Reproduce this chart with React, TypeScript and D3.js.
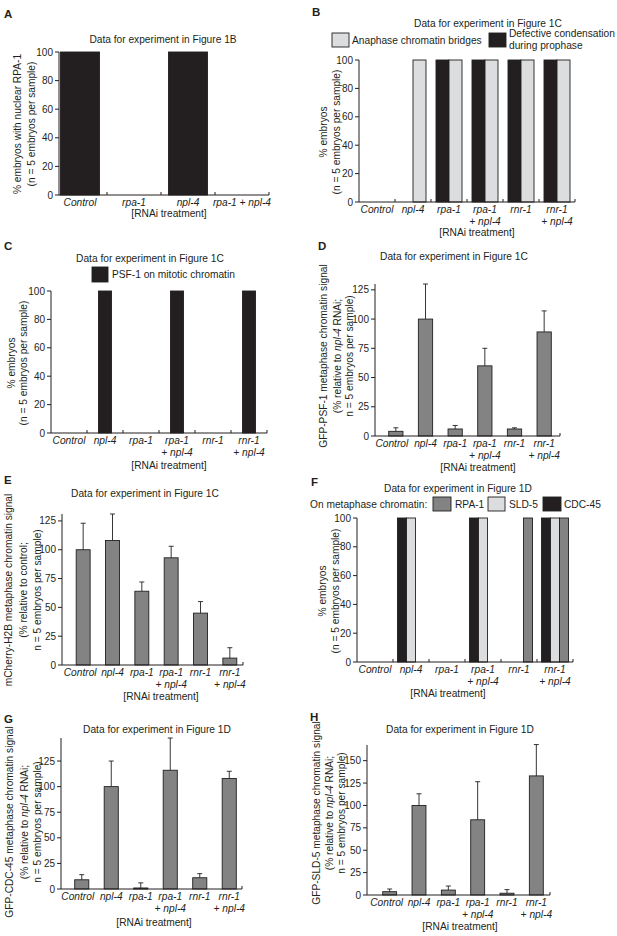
import * as d3 from 'd3'

// ---- data ----
const catsA = ['Control', 'rpa-1', 'npl-4', 'rpa-1 + npl-4']
const cats = ['Control', 'npl-4', 'rpa-1', 'rpa-1\n+ npl-4', 'rnr-1', 'rnr-1\n+ npl-4']

const nuclearRPA1 = [100, 0, 100, 0]

const condensationDefect = [0, 0, 100, 100, 100, 100]
const chromatinBridges = [0, 100, 100, 100, 100, 100]

const psf1OnChromatin = [0, 100, 0, 100, 0, 100]

const psf1Signal = [4, 100, 6, 60, 6, 89]
const psf1Sd = [3, 30, 3, 15, 1, 18]

const h2bSignal = [100, 108, 64, 93, 45, 6]
const h2bSd = [23, 23, 8, 10, 10, 9]

const cdc45OnChromatin = [0, 100, 0, 100, 0, 100]
const sld5OnChromatin = [0, 100, 0, 100, 0, 100]
const rpa1OnChromatin = [0, 0, 0, 0, 100, 100]

const cdc45Signal = [9, 100, 1, 116, 11, 108]
const cdc45Sd = [5, 25, 5, 31.5, 4, 7]

const sld5Signal = [3.7, 100, 5.5, 84, 2, 133]
const sld5Sd = [3, 13, 4.5, 42.5, 4, 35]

const pctTicks = [0, 20, 40, 60, 80, 100]
const signalTicks = [0, 25, 50, 75, 100, 125]
const sld5Ticks = [0, 25, 50, 75, 100, 125, 150]

// ---- styling ----
const FONT = '"Liberation Sans", Arial, Helvetica, sans-serif'
const INK = '#231f20'
const BLACK = '#231f20'
const MID = '#838383'
const LIGHT = '#dcdddf'
const FS = 10.2

type Series = { values: number[]; sd?: number[]; fill: string }
type Layout = {
  x0: number; x1: number; band: [number, number]; inset: number
  y0: number; yTop: number; yMax: number; ticks: number[]
  bandTicks: boolean
  firstDx?: number
}

// text with *italic* parts
const Rich = ({ text }: { text: string }) => (
  <>
    {text.split('*').map((s, i) => (
      <tspan key={i} fontStyle={i % 2 ? 'italic' : 'normal'}>{s}</tspan>
    ))}
  </>
)

const BarPanel = ({ categories, series, L }: { categories: string[]; series: Series[]; L: Layout }) => {
  const x = d3.scaleBand<string>().domain(categories).range(L.band).padding(0)
  const y = d3.scaleLinear().domain([0, L.yMax]).range([L.y0, L.yTop])
  const sub = d3.scaleBand<number>()
    .domain(d3.range(series.length))
    .range([L.inset, x.bandwidth() - L.inset])
    .padding(0)

  return (
    <g>
      {series.map((s, si) =>
        s.values.map((v, i) => {
          if (v <= 0) return null
          const bx = (x(categories[i]) ?? 0) + (sub(si) ?? 0)
          const cx = bx + sub.bandwidth() / 2
          return (
            <g key={`${si}-${i}`}>
              <rect x={bx} y={y(v)} width={sub.bandwidth()} height={L.y0 - y(v)}
                fill={s.fill} stroke={INK} strokeWidth={0.9} />
              {s.sd && (
                <g stroke={INK} strokeWidth={0.9}>
                  <line x1={cx} x2={cx} y1={y(v)} y2={y(v + s.sd[i])} />
                  <line x1={cx - 2.5} x2={cx + 2.5} y1={y(v + s.sd[i])} y2={y(v + s.sd[i])} />
                </g>
              )}
            </g>
          )
        })
      )}
      {/* axes */}
      <line x1={L.x0} x2={L.x0} y1={L.y0} y2={L.yTop} stroke={INK} />
      <line x1={L.x0} x2={L.x1} y1={L.y0} y2={L.y0} stroke={INK} />
      {L.ticks.map(t => (
        <g key={t}>
          <line x1={L.x0 - 4} x2={L.x0} y1={y(t)} y2={y(t)} stroke={INK} />
          <text x={L.x0 - 6} y={y(t)} dy="0.35em" textAnchor="end" fontSize={10}>{t}</text>
        </g>
      ))}
      {L.bandTicks
        ? categories.map(c => {
            const tx = (x(c) ?? 0) + x.bandwidth()
            return <line key={c} x1={tx} x2={tx} y1={L.y0} y2={L.y0 - 3} stroke={INK} />
          })
        : <line x1={L.x1} x2={L.x1} y1={L.y0} y2={L.y0 - 3} stroke={INK} />}
      {categories.map((c, ci) => {
        const cx = (x(c) ?? 0) + x.bandwidth() / 2 + (ci === 0 ? L.firstDx ?? 0 : 0)
        return c.split('\n').map((line, li) => (
          <text key={c + li} x={cx} y={L.y0 + 11 + li * 12} textAnchor="middle" fontStyle="italic">{line}</text>
        ))
      })}
    </g>
  )
}

const YLabel = ({ lines, xs, yc }: { lines: string[]; xs: number[]; yc: number }) => (
  <g>
    {lines.map((l, i) => (
      <text key={i} transform={`translate(${xs[i]},${yc}) rotate(-90)`} dy="0.35em" textAnchor="middle">
        <Rich text={l} />
      </text>
    ))}
  </g>
)

const Letter = ({ t, x, y }: { t: string; x: number; y: number }) => (
  <text x={x} y={y} fontWeight="bold" fontSize={11.5}>{t}</text>
)

const Title = ({ t, x, y }: { t: string; x: number; y: number }) => (
  <text x={x} y={y} textAnchor="middle">{t}</text>
)

const Swatch = ({ x, y, fill, w = 17, h = 14 }: { x: number; y: number; fill: string; w?: number; h?: number }) => (
  <rect x={x} y={y} width={w} height={h} fill={fill} stroke={INK} strokeWidth={0.9} />
)

const pctEmbryos = ['% embryos', '(n = 5 embryos per sample)']
const relNpl4 = (name: string) => [
  `${name} metaphase chromatin signal`,
  '(% relative to *npl-4* RNAi;',
  'n = 5 embryos per sample)',
]

const App = () => {
  return (
    <svg width={617} height={936} style={{ position: 'absolute', left: 0, top: 0, background: '#fff' }}
      fontFamily={FONT} fontSize={FS} fill={INK}>
      {/* A */}
      <Letter t="A" x={4} y={18} />
      <Title t="Data for experiment in Figure 1B" x={163} y={43} />
      <BarPanel categories={catsA} series={[{ values: nuclearRPA1, fill: BLACK }]}
        L={{ x0: 59, x1: 269, band: [53, 269], inset: 7.5, y0: 195, yTop: 52, yMax: 100, ticks: pctTicks, bandTicks: true }} />
      <YLabel lines={['% embryos with nuclear RPA-1', '(n = 5 embryos per sample)']} xs={[17, 31]} yc={124} />
      <text x={169} y={217} textAnchor="middle">[RNAi treatment]</text>

      {/* B */}
      <Letter t="B" x={312} y={16} />
      <Title t="Data for experiment in Figure 1C" x={488} y={27} />
      <Swatch x={332} y={33} fill={LIGHT} />
      <text x={352} y={44}>Anaphase chromatin bridges</text>
      <Swatch x={489} y={33} fill={BLACK} />
      <text x={509} y={37}>Defective condensation</text>
      <text x={509} y={49}>during prophase</text>
      <BarPanel categories={cats}
        series={[{ values: condensationDefect, fill: BLACK }, { values: chromatinBridges, fill: LIGHT }]}
        L={{ x0: 359, x1: 575, band: [359, 575], inset: 5, y0: 202, yTop: 60, yMax: 100, ticks: pctTicks, bandTicks: true }} />
      <YLabel lines={pctEmbryos} xs={[323, 336]} yc={132} />
      <text x={477} y={236} textAnchor="middle">[RNAi treatment]</text>

      {/* C */}
      <Letter t="C" x={4} y={250} />
      <Title t="Data for experiment in Figure 1C" x={150} y={262} />
      <Swatch x={92} y={267} fill={BLACK} w={16} h={15} />
      <text x={112} y={278}>PSF-1 on mitotic chromatin</text>
      <BarPanel categories={cats} series={[{ values: psf1OnChromatin, fill: BLACK }]}
        L={{ x0: 51, x1: 267, band: [51, 267], inset: 11.5, y0: 433, yTop: 291, yMax: 100, ticks: pctTicks, bandTicks: true }} />
      <YLabel lines={pctEmbryos} xs={[11, 23]} yc={363} />
      <text x={169} y={469} textAnchor="middle">[RNAi treatment]</text>

      {/* D */}
      <Letter t="D" x={318} y={250} />
      <Title t="Data for experiment in Figure 1C" x={454} y={260} />
      <BarPanel categories={cats} series={[{ values: psf1Signal, sd: psf1Sd, fill: MID }]}
        L={{ x0: 375, x1: 560, band: [381, 559], inset: 7.7, y0: 436, yTop: 284, yMax: 130, ticks: signalTicks, bandTicks: false, firstDx: -4 }} />
      <YLabel lines={relNpl4('GFP-PSF-1')} xs={[323, 337, 349]} yc={356} />
      <text x={478} y={471} textAnchor="middle">[RNAi treatment]</text>

      {/* E */}
      <Letter t="E" x={4} y={484} />
      <Title t="Data for experiment in Figure 1C" x={145} y={497} />
      <BarPanel categories={cats} series={[{ values: h2bSignal, sd: h2bSd, fill: MID }]}
        L={{ x0: 62, x1: 243, band: [68.5, 244.5], inset: 7.7, y0: 665, yTop: 514, yMax: 131, ticks: signalTicks, bandTicks: false, firstDx: -3 }} />
      <YLabel lines={['mCherry-H2B metaphase chromatin signal', '(% relative to control;', 'n = 5 embryos per sample)']}
        xs={[8, 23, 37]} yc={590} />
      <text x={161} y={700} textAnchor="middle">[RNAi treatment]</text>

      {/* F */}
      <Letter t="F" x={311} y={486} />
      <Title t="Data for experiment in Figure 1D" x={458} y={492} />
      <text x={310} y={508}>On metaphase chromatin:</text>
      <Swatch x={433} y={497} fill={MID} w={18} />
      <text x={455} y={508}>RPA-1</text>
      <Swatch x={488} y={497} fill={LIGHT} w={17} />
      <text x={509} y={508}>SLD-5</text>
      <Swatch x={543} y={497} fill={BLACK} w={18} />
      <text x={564} y={508}>CDC-45</text>
      <BarPanel categories={cats}
        series={[
          { values: cdc45OnChromatin, fill: BLACK },
          { values: sld5OnChromatin, fill: LIGHT },
          { values: rpa1OnChromatin, fill: MID },
        ]}
        L={{ x0: 357, x1: 573, band: [357, 573], inset: 4.5, y0: 662, yTop: 518, yMax: 100, ticks: pctTicks, bandTicks: true }} />
      <YLabel lines={pctEmbryos} xs={[322, 335]} yc={591} />
      <text x={448} y={697} textAnchor="middle">[RNAi treatment]</text>

      {/* G */}
      <Letter t="G" x={4} y={723} />
      <Title t="Data for experiment in Figure 1D" x={157} y={733} />
      <BarPanel categories={cats} series={[{ values: cdc45Signal, sd: cdc45Sd, fill: MID }]}
        L={{ x0: 61, x1: 242, band: [67, 244], inset: 7.7, y0: 889, yTop: 738, yMax: 147.5, ticks: signalTicks, bandTicks: false, firstDx: -4 }} />
      <YLabel lines={relNpl4('GFP-CDC-45')} xs={[9.5, 24.5, 37]} yc={822} />
      <text x={154} y={926} textAnchor="middle">[RNAi treatment]</text>

      {/* H */}
      <Letter t="H" x={310} y={721} />
      <Title t="Data for experiment in Figure 1D" x={460} y={733} />
      <BarPanel categories={cats} series={[{ values: sld5Signal, sd: sld5Sd, fill: MID }]}
        L={{ x0: 367, x1: 550, band: [375, 551], inset: 7.7, y0: 895, yTop: 745, yMax: 167.5, ticks: sld5Ticks, bandTicks: false, firstDx: -3 }} />
      <YLabel lines={relNpl4('GFP-SLD-5')} xs={[316, 329, 341]} yc={813} />
      <text x={460} y={930} textAnchor="middle">[RNAi treatment]</text>
    </svg>
  )
}

export default App
